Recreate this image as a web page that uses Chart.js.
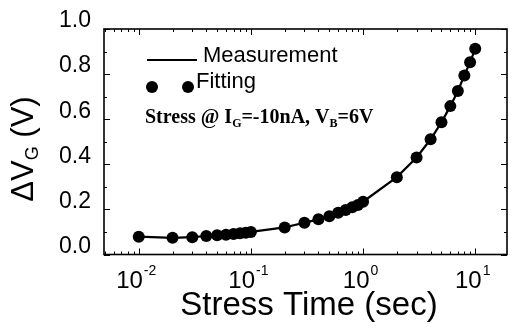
<!DOCTYPE html>
<html>
<head>
<meta charset="utf-8">
<script src="https://cdn.jsdelivr.net/npm/chart.js@4/dist/chart.umd.min.js"></script>
<style>
html,body{margin:0;padding:0;background:#fff;}
#wrap{width:513px;height:329px;position:relative;}
</style>
</head>
<body>
<div id="wrap"><canvas id="c" width="513" height="329"></canvas></div>
<script>
// Stress time (sec)
const stressTime = [0.01,0.02,0.03,0.04,0.05,0.06,0.07,0.08,0.09,0.1,0.2,0.3,0.4,0.5,0.6,0.7,0.8,0.9,1.0,2,3,4,5,6,7,8,9,10];
// Delta V_G (V) - measurement
const measurement = [0.079,0.074,0.077,0.082,0.085,0.088,0.091,0.094,0.096,0.100,0.120,0.141,0.156,0.170,0.185,0.197,0.209,0.220,0.234,0.343,0.430,0.511,0.586,0.658,0.725,0.794,0.853,0.912];
// Delta V_G (V) - fitting
const fitting = [0.079,0.074,0.077,0.082,0.085,0.088,0.091,0.094,0.096,0.100,0.120,0.141,0.156,0.170,0.185,0.197,0.209,0.220,0.234,0.343,0.430,0.511,0.586,0.658,0.725,0.794,0.853,0.912];
const xMajorTicks = [0.01,0.1,1,10];
const xTickExponents = ['-2','-1','0','1'];
const yMajorTicks = [0.0,0.2,0.4,0.6,0.8,1.0];
const yTickLabels = ['0.0','0.2','0.4','0.6','0.8','1.0'];
const yMinorTicks = [0.1,0.3,0.5,0.7,0.9];

const SANS = '"Liberation Sans", Arial, Helvetica, sans-serif';
const SERIF = '"Liberation Serif", "Times New Roman", serif';

const framePlugin = {
  id: 'frame',
  afterDraw(chart) {
    const ctx = chart.ctx;
    const a = chart.chartArea;
    const xs = chart.scales.x, ys = chart.scales.y;
    ctx.save();
    ctx.strokeStyle = '#000';
    ctx.fillStyle = '#000';
    // frame
    ctx.lineWidth = 1.6;
    ctx.strokeRect(a.left, a.top, a.right - a.left, a.bottom - a.top);
    ctx.lineWidth = 1;
    const major = 6, minor = 3;
    // x ticks (log)
    ctx.beginPath();
    for (let e = -3; e <= 1; e++) {
      for (let m = 1; m <= 9; m++) {
        const v = m * Math.pow(10, e);
        if (v < xs.min || v > xs.max) continue;
        const px = Math.round(xs.getPixelForValue(v)) + 0.5;
        const len = (m === 1) ? major : minor;
        ctx.moveTo(px, a.bottom); ctx.lineTo(px, a.bottom - len);
        ctx.moveTo(px, a.top); ctx.lineTo(px, a.top + len);
      }
    }
    // y ticks
    yMajorTicks.forEach(v => {
      const py = Math.round(ys.getPixelForValue(v)) + 0.5;
      ctx.moveTo(a.left, py); ctx.lineTo(a.left + major, py);
      ctx.moveTo(a.right, py); ctx.lineTo(a.right - major, py);
    });
    yMinorTicks.forEach(v => {
      const py = Math.round(ys.getPixelForValue(v)) + 0.5;
      ctx.moveTo(a.left, py); ctx.lineTo(a.left + minor, py);
      ctx.moveTo(a.right, py); ctx.lineTo(a.right - minor, py);
    });
    ctx.stroke();

    // y tick labels
    ctx.font = '23px ' + SANS;
    ctx.textAlign = 'right';
    ctx.textBaseline = 'middle';
    yMajorTicks.forEach((v, i) => {
      const py = ys.getPixelForValue(v);
      ctx.fillText(yTickLabels[i], a.left - 13, py - 8);
    });

    // x tick labels: 10^n
    ctx.textBaseline = 'alphabetic';
    xMajorTicks.forEach((v, i) => {
      const px = xs.getPixelForValue(v);
      ctx.font = '24px ' + SANS;
      const w1 = ctx.measureText('10').width;
      ctx.font = '14px ' + SANS;
      const w2 = ctx.measureText(xTickExponents[i]).width;
      const start = px - (w1 + w2) / 2 - 3;
      ctx.textAlign = 'left';
      ctx.font = '24px ' + SANS;
      ctx.fillText('10', start, a.bottom + 33);
      ctx.font = '14px ' + SANS;
      ctx.fillText(xTickExponents[i], start + w1 + 1, a.bottom + 20);
    });

    // x title
    ctx.font = '33px ' + SANS;
    ctx.textAlign = 'center';
    ctx.fillText('Stress Time (sec)', 309, 315);

    // y title (rotated)
    ctx.save();
    ctx.translate(33, 149);
    ctx.rotate(-Math.PI / 2);
    ctx.font = '31px ' + SANS;
    const p1 = '\u0394V', p3 = ' (V)';
    const wp1 = ctx.measureText(p1).width;
    ctx.font = '18px ' + SANS;
    const wp2 = ctx.measureText('G').width;
    ctx.font = '31px ' + SANS;
    const wp3 = ctx.measureText(p3).width;
    const tot = wp1 + wp2 + wp3;
    let x0 = -tot / 2;
    ctx.textAlign = 'left';
    ctx.fillText(p1, x0, 0);
    ctx.font = '18px ' + SANS;
    ctx.fillText('G', x0 + wp1, 5);
    ctx.font = '31px ' + SANS;
    ctx.fillText(p3, x0 + wp1 + wp2, 0);
    ctx.restore();

    // legend
    ctx.lineWidth = 2.2;
    ctx.beginPath();
    ctx.moveTo(147, 60); ctx.lineTo(197, 60);
    ctx.stroke();
    ctx.font = '22px ' + SANS;
    ctx.textAlign = 'left';
    ctx.fillText('Measurement', 203, 62);
    [152, 188].forEach(cx => {
      ctx.beginPath();
      ctx.arc(cx, 87, 6, 0, Math.PI * 2);
      ctx.fill();
    });
    ctx.fillText('Fitting', 196, 88);

    // annotation
    const parts = [
      ['Stress @ I', 20, 0],
      ['G', 12, 4],
      ['=-10nA, V', 20, 0],
      ['B', 12, 4],
      ['=6V', 20, 0]
    ];
    let tx = 145;
    parts.forEach(p => {
      ctx.font = 'bold ' + p[1] + 'px ' + SERIF;
      ctx.fillText(p[0], tx, 123 + p[2]);
      tx += ctx.measureText(p[0]).width;
    });
    ctx.restore();
  }
};

new Chart(document.getElementById('c'), {
  type: 'line',
  data: {
    datasets: [
      {
        label: 'Measurement',
        data: stressTime.map((t, i) => ({x: t, y: measurement[i]})),
        borderColor: '#000',
        borderWidth: 2.2,
        pointRadius: 0,
        tension: 0,
        fill: false
      },
      {
        label: 'Fitting',
        data: stressTime.map((t, i) => ({x: t, y: fitting[i]})),
        showLine: false,
        backgroundColor: '#000',
        borderColor: '#000',
        pointRadius: 6,
        pointBorderWidth: 0
      }
    ]
  },
  options: {
    responsive: false,
    animation: false,
    devicePixelRatio: 1,
    layout: { padding: { left: 104, right: 2, top: 29, bottom: 74.5 } },
    plugins: { legend: { display: false }, tooltip: { enabled: false } },
    scales: {
      x: { type: 'logarithmic', min: 0.0049, max: 19.2, display: false },
      y: { type: 'linear', min: 0, max: 1.0, display: false }
    }
  },
  plugins: [framePlugin]
});
</script>
</body>
</html>
